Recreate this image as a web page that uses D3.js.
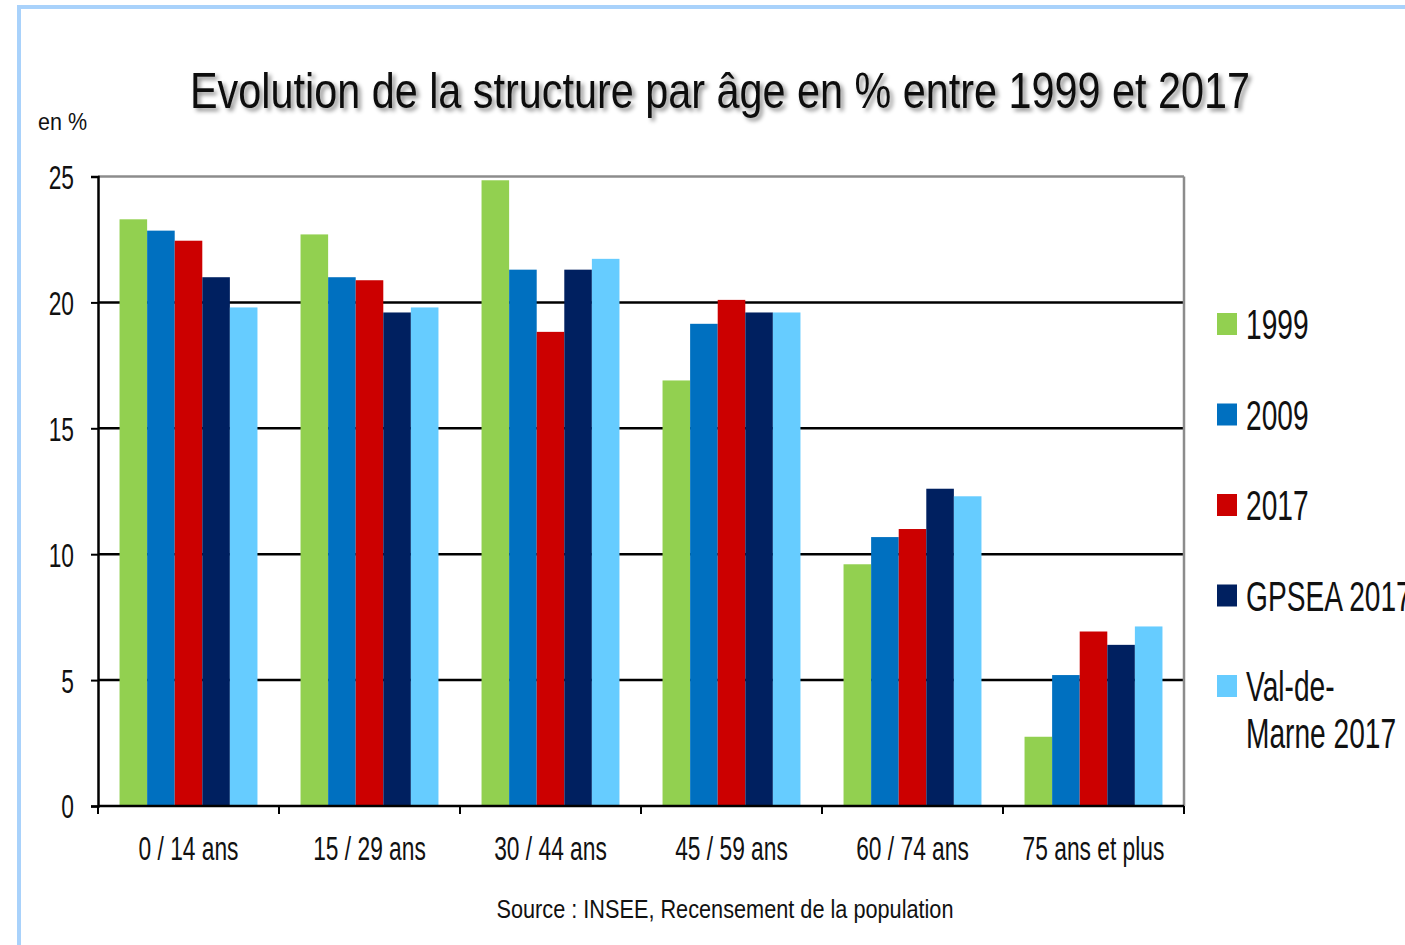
<!doctype html>
<html>
<head>
<meta charset="utf-8">
<title>Evolution de la structure par âge</title>
<script src="https://cdnjs.cloudflare.com/ajax/libs/d3/7.8.5/d3.min.js"></script>
<style>
  body { margin: 0; background: #fff; }
  svg { display: block; }
  text { font-family: "Liberation Sans", Arial, sans-serif; fill: #111; }
</style>
</head>
<body>
<svg width="1405" height="945"></svg>
<script>
// data
var categories = ["0 / 14 ans", "15 / 29 ans", "30 / 44 ans", "45 / 59 ans", "60 / 74 ans", "75 ans et plus"];
var seriesNames = ["1999", "2009", "2017", "GPSEA 2017", "Val-de-Marne 2017"];
var seriesColors = ["#92d050", "#0070c0", "#cc0000", "#002060", "#66ccff"];
var v1999 = [23.3, 22.7, 24.85, 16.9, 9.6, 2.75];
var v2009 = [22.85, 21.0, 21.3, 19.15, 10.68, 5.2];
var v2017 = [22.45, 20.88, 18.83, 20.1, 11.0, 6.93];
var vGpsea = [21.0, 19.6, 21.3, 19.6, 12.6, 6.4];
var vValDeMarne = [19.8, 19.8, 21.73, 19.6, 12.3, 7.13];
var yTicks = [0, 5, 10, 15, 20, 25];

var allValues = [v1999, v2009, v2017, vGpsea, vValDeMarne];

var svg = d3.select("svg");

// frame
svg.append("rect")
    .attr("x", 19).attr("y", 7)
    .attr("width", 1500).attr("height", 1000)
    .attr("fill", "none")
    .attr("stroke", "#a9d2fb")
    .attr("stroke-width", 4);

// shadow for title
var defs = svg.append("defs");
defs.append("filter").attr("id", "shadow")
    .attr("x", "-5%").attr("y", "-30%").attr("width", "110%").attr("height", "160%")
    .append("feDropShadow")
    .attr("dx", 3).attr("dy", 3).attr("stdDeviation", 2)
    .attr("flood-color", "#000").attr("flood-opacity", 0.45);

var plotLeft = 98, plotRight = 1184, plotTop = 176.5, plotBottom = 806;
var squeeze = "scale(0.67,1)";

var x0 = d3.scaleBand().domain(categories).range([plotLeft, plotRight])
    .paddingInner(0.238).paddingOuter(0.119);
var x1 = d3.scaleBand().domain(seriesNames).range([0, x0.bandwidth()]);
var y = d3.scaleLinear().domain([0, 25]).range([plotBottom, plotTop]);

// gridlines
svg.append("g").selectAll("line")
    .data(yTicks.filter(d => d > 0))
    .join("line")
    .attr("x1", plotLeft).attr("x2", plotRight)
    .attr("y1", d => y(d)).attr("y2", d => y(d))
    .attr("stroke", d => d == 25 ? "#8c8c8c" : "#000")
    .attr("stroke-width", 2.5);

// right border
svg.append("line")
    .attr("x1", plotRight).attr("x2", plotRight)
    .attr("y1", plotTop).attr("y2", plotBottom)
    .attr("stroke", "#8c8c8c").attr("stroke-width", 2.5);

// bars
var rows = categories.map((c, i) => ({cat: c, vals: seriesNames.map((s, j) => ({s: s, j: j, v: allValues[j][i]}))}));

svg.append("g").selectAll("g")
    .data(rows)
    .join("g")
    .attr("transform", d => "translate(" + x0(d.cat) + ",0)")
    .selectAll("rect")
    .data(d => d.vals)
    .join("rect")
    .attr("x", d => x1(d.s))
    .attr("width", x1.bandwidth())
    .attr("y", d => y(d.v))
    .attr("height", d => y(0) - y(d.v))
    .attr("fill", d => seriesColors[d.j]);

// y axis
var yAxis = d3.axisLeft(y).tickValues(yTicks).tickSize(7).tickPadding(0);
var gy = svg.append("g").attr("transform", "translate(" + plotLeft + ",0)").call(yAxis);
gy.select(".domain").attr("stroke", "#000").attr("stroke-width", 2.5);
gy.selectAll(".tick line").attr("stroke", "#000").attr("stroke-width", 2);
gy.selectAll(".tick text")
    .attr("font-size", 34)
    .attr("fill", "#111")
    .attr("font-family", "Liberation Sans, Arial, sans-serif")
    .attr("x", 0)
    .attr("transform", "translate(-24,0) " + squeeze)
    .attr("dy", "0.35em");

// x axis
var gx = svg.append("g").attr("transform", "translate(0," + plotBottom + ")");
gx.append("line")
    .attr("x1", plotLeft).attr("x2", plotRight)
    .attr("stroke", "#000").attr("stroke-width", 2.5);
gx.selectAll(".xtick")
    .data(d3.range(categories.length + 1))
    .join("line")
    .attr("class", "xtick")
    .attr("x1", d => plotLeft + d * x0.step()).attr("x2", d => plotLeft + d * x0.step())
    .attr("y1", 0).attr("y2", 8)
    .attr("stroke", "#000").attr("stroke-width", 2);
gx.selectAll(".xlabel")
    .data(categories)
    .join("text")
    .attr("class", "xlabel")
    .attr("transform", d => "translate(" + (x0(d) + x0.bandwidth() / 2) + ",54) " + squeeze)
    .attr("text-anchor", "middle")
    .attr("font-size", 34)
    .text(d => d);

// title
svg.append("text")
    .attr("x", 720).attr("y", 108)
    .attr("text-anchor", "middle")
    .attr("font-size", 50)
    .attr("textLength", 1060)
    .attr("lengthAdjust", "spacingAndGlyphs")
    .attr("filter", "url(#shadow)")
    .text("Evolution de la structure par âge en % entre 1999 et 2017");

// unit
svg.append("text")
    .attr("x", 38).attr("y", 130)
    .attr("font-size", 24)
    .attr("textLength", 49)
    .attr("lengthAdjust", "spacingAndGlyphs")
    .text("en %");

// source
svg.append("text")
    .attr("x", 725).attr("y", 918)
    .attr("text-anchor", "middle")
    .attr("font-size", 25)
    .attr("textLength", 457)
    .attr("lengthAdjust", "spacingAndGlyphs")
    .text("Source : INSEE, Recensement de la population");

// legend
var legendLines = [["1999"], ["2009"], ["2017"], ["GPSEA 2017"], ["Val-de-", "Marne 2017"]];
var lg = svg.append("g").selectAll("g")
    .data(seriesNames)
    .join("g")
    .attr("transform", (d, i) => "translate(1217," + (324 + i * 90.5) + ")");
lg.append("rect")
    .attr("x", 0).attr("y", -11)
    .attr("width", 20).attr("height", 22)
    .attr("fill", (d, i) => seriesColors[i]);
lg.append("text")
    .attr("transform", "translate(29,15) scale(0.67,1)")
    .attr("font-size", 42)
    .selectAll("tspan")
    .data((d, i) => legendLines[i])
    .join("tspan")
    .attr("x", 0)
    .attr("dy", (d, k) => k == 0 ? 0 : 47)
    .text(d => d);
</script>
</body>
</html>
